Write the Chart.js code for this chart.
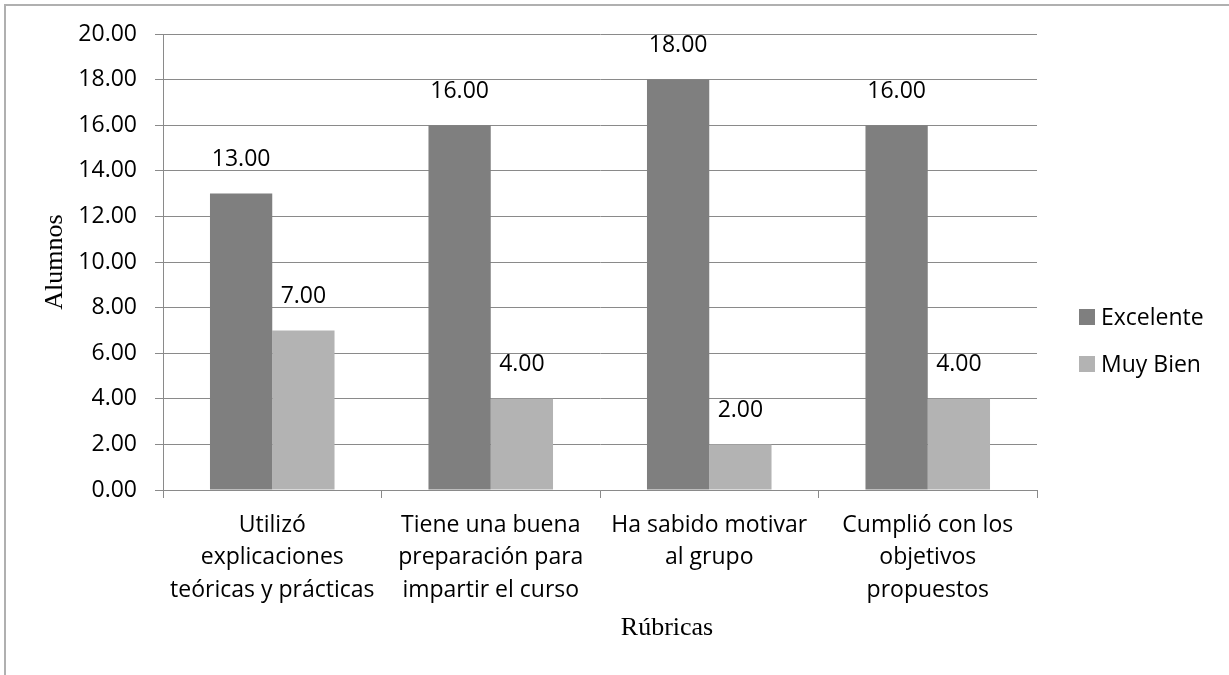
<!DOCTYPE html>
<html>
<head>
<meta charset="utf-8">
<script src="https://cdn.jsdelivr.net/npm/chart.js@4"></script>
<style>
  html, body { margin: 0; padding: 0; background: #fff; }
  #wrap { position: relative; width: 1229px; height: 675px; }
  #frame { position: absolute; left: 4px; top: 4px; right: 0; bottom: 0; border-left: 2px solid #b0b0b0; border-top: 2px solid #b0b0b0; }
  canvas { position: absolute; left: 0; top: 0; }
</style>
</head>
<body>
<div id="wrap">
  <div id="frame"></div>
  <canvas id="mainChart" width="1229" height="675"></canvas>
</div>
<script>
const categories = [
    ['Utilizó', 'explicaciones', 'teóricas y prácticas'],
    ['Tiene una buena', 'preparación para', 'impartir el curso'],
    ['Ha sabido motivar', 'al grupo'],
    ['Cumplió con los', 'objetivos', 'propuestos']
];
const excelente = [13, 16, 18, 16];
const muyBien = [7, 4, 2, 4];
const seriesNames = ['Excelente', 'Muy Bien'];
const xTitle = 'Rúbricas';
const yTitle = 'Alumnos';

const SANS = "'Open Sans', 'Liberation Sans', sans-serif";
const SERIF = "'Liberation Serif', 'DejaVu Serif', serif";
const GRID = '#8a8a8a';

// value labels above bars, x title and the legend on the right
const extras = {
    id: 'extras',
    afterDatasetsDraw(chart) {
        const c = chart.ctx;
        c.save();
        c.font = '23px ' + SANS;
        c.fillStyle = '#000';
        c.textAlign = 'center';
        c.textBaseline = 'middle';
        chart.data.datasets.forEach((ds, i) => {
            chart.getDatasetMeta(i).data.forEach((bar, j) => {
                c.fillText(ds.data[j].toFixed(2), bar.x, bar.y - 34);
            });
        });
        // axis title under the categories
        c.font = '26px ' + SERIF;
        c.fillText(xTitle, 667, 628);
        // legend
        c.textAlign = 'left';
        c.font = '23px ' + SANS;
        chart.data.datasets.forEach((ds, i) => {
            const y = 317 + i * 47;
            c.fillStyle = ds.backgroundColor;
            c.fillRect(1079, y - 8, 16, 16);
            c.fillStyle = '#000';
            c.fillText(ds.label, 1101, y + 1);
        });
        c.restore();
    }
};

const ctx = document.getElementById('mainChart').getContext('2d');
const chart = new Chart(ctx, {
    type: 'bar',
    data: {
        labels: categories,
        datasets: [
            { label: seriesNames[0], data: excelente, backgroundColor: '#7f7f7f' },
            { label: seriesNames[1], data: muyBien, backgroundColor: '#b3b3b3' }
        ]
    },
    options: {
        responsive: false,
        animation: false,
        layout: { padding: { left: 5, top: 34, right: 192, bottom: 0 } },
        datasets: { bar: { categoryPercentage: 0.57, barPercentage: 1.0 } },
        scales: {
            x: {
                grid: { display: true, drawOnChartArea: false, color: GRID, tickLength: 8, offset: true },
                border: { color: GRID },
                ticks: {
                    color: '#000', maxRotation: 0, minRotation: 0, autoSkip: false, padding: 11,
                    font: { family: SANS, size: 23, lineHeight: 1.41 }
                },
                afterFit(scale) { scale.height = 185; }
            },
            y: {
                min: 0, max: 20,
                grid: { color: GRID, tickLength: 8 },
                border: { color: GRID },
                ticks: {
                    stepSize: 2, color: '#000', padding: 18,
                    font: { family: SANS, size: 23 },
                    callback: v => v.toFixed(2)
                },
                title: {
                    display: true, text: yTitle, color: '#000',
                    font: { family: SERIF, size: 26 },
                    padding: { top: 35, bottom: 0 }
                },
                afterFit(scale) { scale.width = 158; }
            }
        },
        plugins: { legend: { display: false }, tooltip: { enabled: false } }
    },
    plugins: [extras]
});
</script>
</body>
</html>
